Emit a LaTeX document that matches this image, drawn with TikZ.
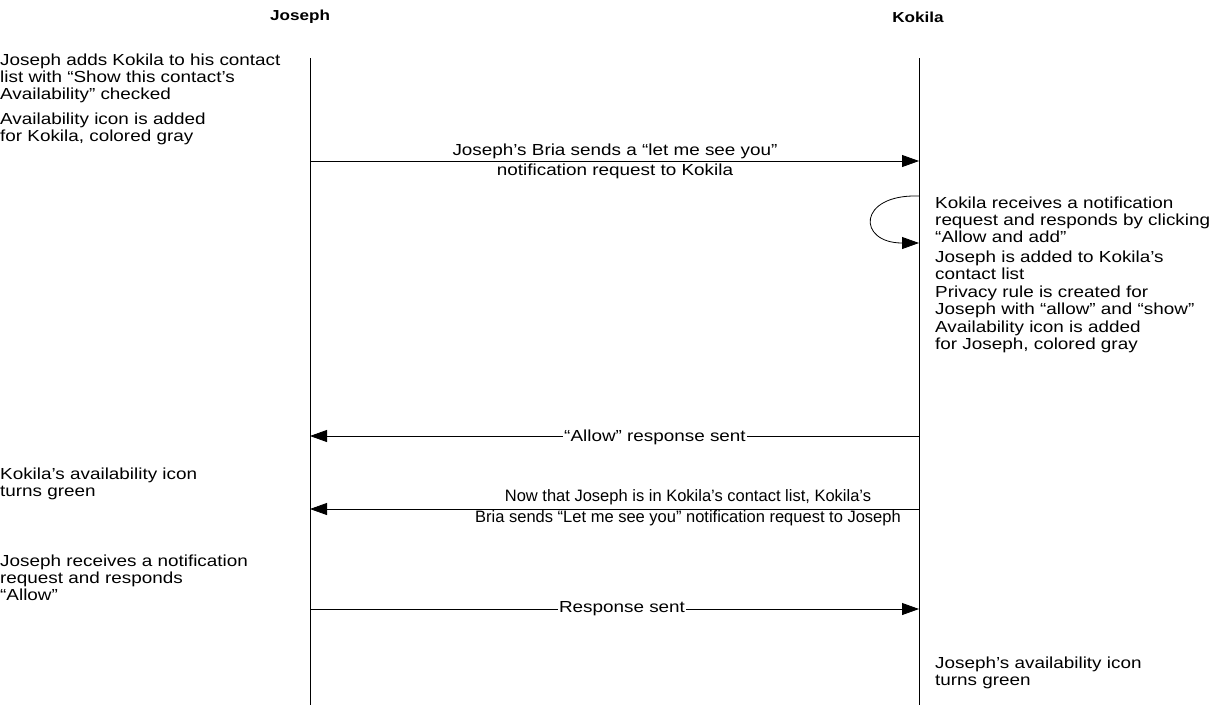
\documentclass[tikz,border=0pt]{standalone}
\usepackage{fontspec}
\setmainfont{Liberation Sans}[FakeStretch=1.18]
\newfontfamily\narrowfont{Liberation Sans}
\usetikzlibrary{arrows.meta}

\begin{document}
\begin{tikzpicture}[x=1pt, y=-1pt, >={Triangle[length=17pt,width=12pt]},
  every node/.style={font=\fontsize{16}{17}\selectfont, inner sep=0pt},
  note/.style={anchor=north west, align=left},
  msg/.style={->, line width=0.8pt},
  life/.style={line width=0.8pt},
  onlbl/.style={fill=white, inner sep=1pt}]

  \useasboundingbox (0,0) rectangle (1217,705);

  % Lifeline positions
  \pgfmathsetmacro{\jx}{310}
  \pgfmathsetmacro{\kx}{919}

  % Participants
  \node[font=\fontsize{14.5}{17}\selectfont\bfseries] (joseph) at (300,17) {Joseph};
  \node[font=\fontsize{14.5}{17}\selectfont\bfseries] (kokila) at (918,17) {Kokila};

  % Lifelines
  \coordinate (jtop) at (\jx,58);
  \coordinate (jbot) at (\jx,705);
  \coordinate (ktop) at (\kx,58);
  \coordinate (kbot) at (\kx,705);
  \draw[life] (jtop) -- (jbot);
  \draw[life] (ktop) -- (kbot);

  % Notes on Joseph's side
  \node[note] (jadd) at (0,54) {Joseph adds Kokila to his contact\\list with “Show this contact’s\\Availability” checked};
  \node[note] (jicon) at (0,113) {Availability icon is added\\for Kokila, colored gray};
  \node[note] (jgreen) at (0,468) {Kokila’s availability icon\\turns green};
  \node[note] (jrecv) at (0,555) {Joseph receives a notification\\request and responds\\“Allow”};

  % Notes on Kokila's side
  \node[note] (krecv) at (935,197) {Kokila receives a notification\\request and responds by clicking\\“Allow and add”};
  \node[note] (kadd) at (935,251) {Joseph is added to Kokila’s\\contact list};
  \node[note] (krule) at (935,286) {Privacy rule is created for\\Joseph with “allow” and “show”};
  \node[note] (kicon) at (935,321) {Availability icon is added\\for Joseph, colored gray};
  \node[note] (kgreen) at (935,657) {Joseph’s availability icon\\turns green};

  % Request from Joseph
  \coordinate (j1) at (\jx,161);
  \coordinate (k1) at (\kx,161);
  \draw[msg] (j1) -- (k1);
  \node[align=center] (req1) at (615,161) {Joseph’s Bria sends a “let me see you”\\[3pt]notification request to Kokila};

  % Kokila answers the request
  \coordinate (kl1) at (\kx,196);
  \coordinate (kl2) at (\kx,243);
  \draw[msg] (kl1) .. controls (857,194) and (857,243) .. (kl2);

  % Allow back to Joseph
  \coordinate (k2) at (\kx,436);
  \coordinate (j2) at (\jx,436);
  \draw[msg] (k2) -- (j2);
  \node[onlbl] (allow) at (655,437) {“Allow” response sent};

  % Request from Kokila
  \coordinate (k3) at (\kx,509);
  \coordinate (j3) at (\jx,509);
  \draw[msg] (k3) -- (j3);
  \node[align=center, font=\narrowfont\fontsize{16.5}{17}\selectfont] (req2) at (688,508) {Now that Joseph is in Kokila’s contact list, Kokila’s\\[4pt]Bria sends “Let me see you” notification request to Joseph};

  % Response to Kokila
  \coordinate (j4) at (\jx,609);
  \coordinate (k4) at (\kx,609);
  \draw[msg] (j4) -- (k4);
  \node[onlbl] (resp) at (622,609) {Response sent};
\end{tikzpicture}
\end{document}
